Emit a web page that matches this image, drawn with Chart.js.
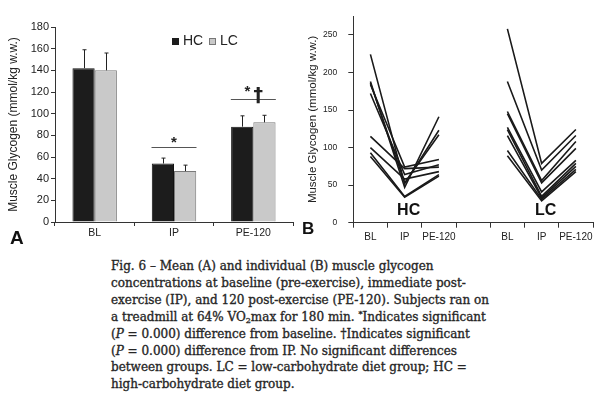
<!DOCTYPE html>
<html>
<head>
<meta charset="utf-8">
<script src="https://cdn.jsdelivr.net/npm/chart.js@4.4.1/dist/chart.umd.min.js"></script>
<style>
    body { margin: 0; background: #fff; }
    #fig { position: relative; width: 610px; height: 397px; overflow: hidden; background: #fff; }
    .box { position: absolute; top: 0; height: 250px; }
    .letter { position: absolute; font: bold 19px 'Liberation Sans', Arial, sans-serif; color: #111; line-height: 1; }
    #caption { position: absolute; left: 111px; top: 258px; font: 12px 'DejaVu Serif', serif; line-height: 16.9px; color: #262626; white-space: nowrap; -webkit-text-stroke: 0.35px #262626; }
    #caption i { font-style: italic; }
    #caption sub { font-size: 8px; vertical-align: -2px; line-height: 0; }
    #caption sup { font-size: 8px; vertical-align: 4px; line-height: 0; }
</style>
</head>
<body>
<div id="fig">
    <div class="box" style="left:0;width:300px"><canvas id="chartA"></canvas></div>
    <div class="box" style="left:300px;width:310px"><canvas id="chartB"></canvas></div>
    <div class="letter" style="left:10px;top:228px">A</div>
    <div class="letter" style="left:302px;top:220px;font-size:17px">B</div>
    <div id="caption">
        <div>Fig. 6 – Mean (A) and individual (B) muscle glycogen</div>
        <div>concentrations at baseline (pre-exercise), immediate post-</div>
        <div>exercise (IP), and 120 post-exercise (PE-120). Subjects ran on</div>
        <div>a treadmill at 64% VO<sub>2</sub>max for 180 min. <sup>*</sup>Indicates significant</div>
        <div>(<i>P</i> = 0.000) difference from baseline. †Indicates significant</div>
        <div>(<i>P</i> = 0.000) difference from IP. No significant differences</div>
        <div>between groups. LC = low-carbohydrate diet group; HC =</div>
        <div>high-carbohydrate diet group.</div>
    </div>
</div>
<script>
// panel A : medias +/- DE
var cats = ['BL', 'IP', 'PE-120'];
var hcMean = [142, 54, 88];
var lcMean = [140, 47, 92];
var hcErr = [17, 5, 10];
var lcErr = [16, 5.5, 6.5];

// panel B : sujetos individuales
var timeLabels = ['BL', 'IP', 'PE-120', '', 'BL', 'IP', 'PE-120'];
var hcBL = [224, 188, 186, 184, 172, 115, 100, 93, 88];
var hcIP = [52, 47, 53, 74, 64, 72, 58, 35, 34];
var hcPE = [123, 141, 117, 84, 77, 74, 68, 64, 62];
var lcBL = [258, 188, 148, 145, 127, 124, 116, 96, 89];
var lcIP = [79, 70, 56, 53, 41, 35, 33, 31, 29];
var lcPE = [124, 116, 108, 99, 83, 79, 75, 71, 68];

Chart.defaults.font.family = "'Liberation Sans', Arial, sans-serif";
Chart.defaults.color = '#222';
Chart.defaults.animation = false;

var ink = '#222';

// barras de error (solo hacia arriba)
var errorBars = {
    id: 'errorBars',
    afterDatasetsDraw: function (chart) {
        var ctx = chart.ctx;
        var y = chart.scales.y;
        var errs = [hcErr, lcErr];
        ctx.save();
        ctx.strokeStyle = ink;
        ctx.lineWidth = 1;
        chart.data.datasets.forEach(function (ds, i) {
            chart.getDatasetMeta(i).data.forEach(function (bar, j) {
                var top = y.getPixelForValue(ds.data[j] + errs[i][j]);
                var x = Math.round(bar.x) + 0.5;
                ctx.beginPath();
                ctx.moveTo(x, bar.y);
                ctx.lineTo(x, top);
                ctx.moveTo(x - 2, top);
                ctx.lineTo(x + 2, top);
                ctx.stroke();
            });
        });
        ctx.restore();
    }
};

// leyenda, lineas de significancia y simbolos
var annotA = {
    id: 'annotA',
    afterDraw: function (chart) {
        var ctx = chart.ctx;
        var x = chart.scales.x, y = chart.scales.y;
        var area = chart.chartArea;
        ctx.save();
        // leyenda
        var lx = area.left + 117, ly = area.top + 14.5;
        ctx.font = "14px 'Liberation Sans', Arial, sans-serif";
        ctx.textBaseline = 'middle';
        ctx.fillStyle = '#1c1c1c';
        ctx.fillRect(lx, ly - 3.5, 7, 7);
        ctx.fillStyle = ink;
        ctx.fillText('HC', lx + 11, ly);
        ctx.fillStyle = '#c9c9c9';
        ctx.fillRect(lx + 37, ly - 3.5, 7, 7);
        ctx.strokeStyle = '#777';
        ctx.lineWidth = 1;
        ctx.strokeRect(lx + 37.5, ly - 3, 6, 6);
        ctx.fillStyle = ink;
        ctx.fillText('LC', lx + 48, ly);

        // lineas horizontales
        ctx.strokeStyle = '#555';
        var half = 22.5;
        var yIP = Math.round(y.getPixelForValue(69.5)) + 0.5;
        var yPE = Math.round(y.getPixelForValue(113.5)) + 0.5;
        var xIP = x.getPixelForValue(1), xPE = x.getPixelForValue(2);
        ctx.beginPath();
        ctx.moveTo(xIP - half, yIP); ctx.lineTo(xIP + half, yIP);
        ctx.moveTo(xPE - half, yPE); ctx.lineTo(xPE + half, yPE);
        ctx.stroke();

        ctx.textAlign = 'center';
        ctx.fillStyle = ink;
        ctx.font = "bold 15px 'Liberation Sans', Arial, sans-serif";
        ctx.fillText('*', xIP, yIP - 5);
        ctx.fillText('*', xPE - 6, yPE - 8);
        ctx.font = "bold 19px 'DejaVu Sans', sans-serif";
        ctx.fillText('†', xPE + 5, yPE - 3);
        ctx.restore();
    }
};

new Chart(document.getElementById('chartA'), {
    type: 'bar',
    data: {
        labels: cats,
        datasets: [
            { label: 'HC', data: hcMean, backgroundColor: '#1c1c1c', borderColor: '#111', borderWidth: 1 },
            { label: 'LC', data: lcMean, backgroundColor: '#c9c9c9', borderColor: '#7a7a7a', borderWidth: 1 }
        ]
    },
    options: {
        responsive: true,
        maintainAspectRatio: false,
        layout: { padding: { top: 27, right: 7, left: 0, bottom: 0 } },
        datasets: { bar: { categoryPercentage: 0.56, barPercentage: 1 } },
        plugins: { legend: { display: false }, tooltip: { enabled: false } },
        scales: {
            x: {
                offset: true,
                grid: { offset: true, drawOnChartArea: false, tickLength: 4, color: '#333' },
                border: { color: '#333' },
                ticks: { font: { size: 10.5 }, padding: 1 },
                afterFit: function (s) { s.height = 28; }
            },
            y: {
                min: 0,
                max: 180,
                ticks: { stepSize: 20, font: { size: 11 }, padding: 2 },
                grid: { drawOnChartArea: false, tickLength: 4, color: '#333' },
                border: { color: '#333' },
                title: { display: true, text: 'Muscle Glycogen (mmol/kg w.w.)', font: { size: 12 }, padding: { top: 6, bottom: 0 } },
                afterFit: function (s) { s.width = 55; }
            }
        }
    },
    plugins: [errorBars, annotA]
});

// un dataset por sujeto
var lineSets = [];
hcBL.forEach(function (v, i) {
    lineSets.push({ label: 'HC ' + (i + 1), data: [v, hcIP[i], hcPE[i], null, null, null, null] });
});
lcBL.forEach(function (v, i) {
    lineSets.push({ label: 'LC ' + (i + 1), data: [null, null, null, null, v, lcIP[i], lcPE[i]] });
});

var groupLabels = {
    id: 'groupLabels',
    afterDraw: function (chart) {
        var ctx = chart.ctx;
        var x = chart.scales.x, y = chart.scales.y;
        ctx.save();
        ctx.font = "bold 16px 'Liberation Sans', Arial, sans-serif";
        ctx.fillStyle = '#111';
        ctx.textAlign = 'center';
        ctx.textBaseline = 'middle';
        ctx.fillText('HC', x.getPixelForValue(1) + 4, y.getPixelForValue(16));
        ctx.fillText('LC', x.getPixelForValue(5) + 4, y.getPixelForValue(16));
        ctx.restore();
    }
};

new Chart(document.getElementById('chartB'), {
    type: 'line',
    data: { labels: timeLabels, datasets: lineSets },
    options: {
        responsive: true,
        maintainAspectRatio: false,
        layout: { padding: { top: 4, right: 17, left: 0, bottom: 0 } },
        elements: {
            line: { borderColor: '#1a1a1a', borderWidth: 1.6, tension: 0 },
            point: { radius: 0 }
        },
        plugins: { legend: { display: false }, tooltip: { enabled: false } },
        scales: {
            x: {
                offset: true,
                grid: { offset: true, drawOnChartArea: false, tickLength: 5, color: '#333' },
                border: { color: '#333' },
                ticks: { font: { size: 10 }, padding: 4, maxRotation: 0, minRotation: 0, autoSkip: false },
                afterFit: function (s) { s.height = 27.3; }
            },
            y: {
                min: 0,
                max: 275,
                ticks: { stepSize: 50, font: { size: 8.5 }, padding: 11 },
                afterBuildTicks: function (s) {
                    s.ticks = s.ticks.filter(function (t) { return t.value % 50 === 0; });
                },
                grid: { drawOnChartArea: false, tickLength: 5, color: '#333' },
                border: { color: '#333' },
                title: { display: true, text: 'Muscle Glycogen (mmol/kg w.w.)', font: { size: 11.5 }, padding: { top: 6, bottom: 0 } },
                afterFit: function (s) { s.width = 53.3; }
            }
        }
    },
    plugins: [groupLabels]
});
</script>
</body>
</html>
